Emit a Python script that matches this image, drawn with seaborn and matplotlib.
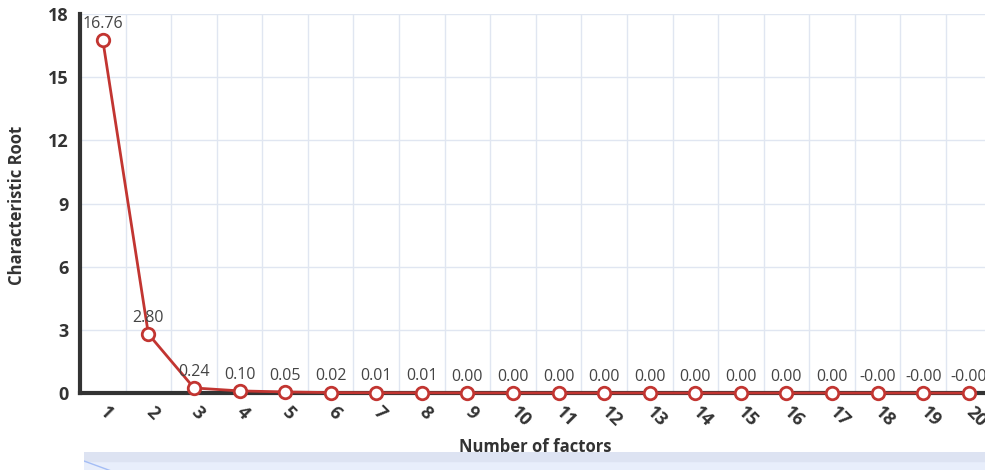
import numpy as np
import pandas as pd
import matplotlib
matplotlib.use("Agg")
import matplotlib.pyplot as plt
import seaborn as sns

# scree plot data
factors = list(range(1, 21))
roots = [16.76, 2.80, 0.24, 0.10, 0.05, 0.02, 0.01, 0.01, 0.004, 0.003,
         0.002, 0.002, 0.001, 0.001, 0.001, 0.0005, 0.0002, -0.001, -0.002, -0.003]
y_ticks = [0, 3, 6, 9, 12, 15, 18]

df = pd.DataFrame({"factor": factors, "root": roots})

sns.set_style("white")
plt.rcParams['font.family'] = ['Open Sans', 'DejaVu Sans']

red = "#c23531"
axis_col = "#333333"
grid_col = "#e0e6f1"

fig = plt.figure(figsize=(9.85, 4.7), dpi=100)
# main plot area (runs a bit past the right edge like the original)
ax = fig.add_axes([80 / 985, 1 - 393 / 470, 911.6 / 985, 379 / 470])

sns.lineplot(data=df, x="factor", y="root", ax=ax, color=red, linewidth=2,
             marker="o", markersize=9, markerfacecolor="white",
             markeredgecolor=red, markeredgewidth=2, zorder=5, clip_on=False)

for xv, yv in zip(df["factor"], df["root"]):
    ax.annotate(f"{yv:.2f}", (xv, yv), xytext=(0, 6), textcoords="offset points",
                ha="center", va="bottom", fontsize=11.5, color="#444444", zorder=6)

ax.set_xlim(0.5, 20.5)
ax.set_ylim(0, 18)

ax.set_yticks(y_ticks)
ax.set_yticklabels([str(t) for t in y_ticks], fontsize=13, fontweight="bold", color=axis_col)
ax.tick_params(axis="y", length=0, pad=8)

ax.set_xticks(factors)
ax.set_xticklabels([str(f) for f in factors], rotation=-45, ha="left", va="center",
                   rotation_mode="anchor", fontsize=13, fontweight="bold", color=axis_col)
ax.tick_params(axis="x", which="major", length=0, pad=12)
ax.set_xticks(np.arange(0.5, 21, 1), minor=True)
ax.tick_params(axis="x", which="minor", length=5, width=1.2, color=axis_col, direction="out")

ax.grid(False)
ax.grid(True, axis="y", which="major", color=grid_col, linewidth=1)
ax.grid(True, axis="x", which="minor", color=grid_col, linewidth=1)
ax.set_axisbelow(True)

for s in ["top", "right"]:
    ax.spines[s].set_visible(False)
for s in ["left", "bottom"]:
    ax.spines[s].set_color(axis_col)
    ax.spines[s].set_linewidth(3)

ax.set_xlabel("Number of factors", fontsize=12, fontweight="bold", color=axis_col)
ax.xaxis.set_label_coords((535 - 80) / 911.6, -(438 - 393) / 379)
ax.set_ylabel("Characteristic Root", fontsize=12, fontweight="bold", color=axis_col)
ax.yaxis.set_label_coords(-(80 - 26) / 911.6, (393 - 205) / 379)

# data zoom slider strip at the bottom
sl = fig.add_axes([84 / 985, 1 - 482 / 470, 907 / 985, 30 / 470])
sl.set_facecolor("#e8eefb")
sl.axhspan(21 / 30, 1.0, color="#dde3f2", zorder=1)
sl.plot(np.linspace(0, 1, len(roots)), (np.array(roots) / max(roots)) * 21 / 30,
        color="#a4bdf5", linewidth=1, zorder=2)
sl.set_xlim(0, 1)
sl.set_ylim(0, 1)
sl.set_xticks([])
sl.set_yticks([])
for s in sl.spines.values():
    s.set_visible(False)

fig.savefig("out.png", dpi=100)
